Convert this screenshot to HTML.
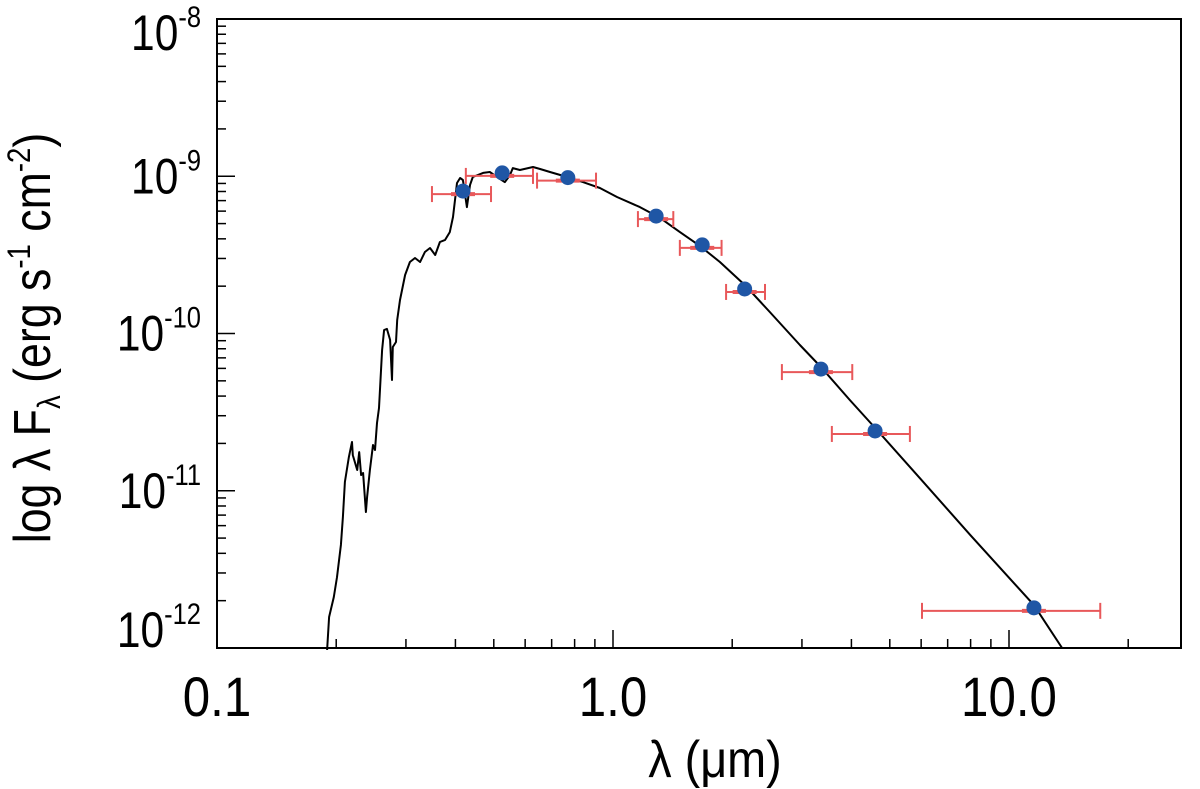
<!DOCTYPE html>
<html><head><meta charset="utf-8"><style>
html,body{margin:0;padding:0;background:#fff;}
svg{display:block;font-family:"Liberation Sans",sans-serif;}
</style></head><body>
<svg id="chart" width="1200" height="789" viewBox="0 0 1200 789">
<g id="axes"></g>
<g id="model"></g>
<g id="errs"></g>
<g id="pts"></g>
<text transform="translate(715,777) scale(0.9,1)" font-size="52" text-anchor="middle">λ (μm)</text>
<text transform="translate(50,338) rotate(-90) scale(0.86,1)" font-size="52" text-anchor="middle">log λ F<tspan font-size="32" dy="10">λ</tspan><tspan dy="-10"> (erg s</tspan><tspan font-size="32" dy="-20">-1</tspan><tspan dy="20"> cm</tspan><tspan font-size="32" dy="-20">-2</tspan><tspan dy="20">)</tspan></text>
</svg>
<script>
const xTicks = [0.1, 1.0, 10.0];
const xTickLabels = ["0.1", "1.0", "10.0"];
const yTicks = [-12, -11, -10, -9, -8];
const lambda = [0.418, 0.525, 0.769, 1.285, 1.68, 2.15, 3.35, 4.59, 11.56];
const flux = [8.05e-10, 1.05e-9, 9.8e-10, 5.58e-10, 3.66e-10, 1.92e-10, 5.94e-11, 2.4e-11, 1.8e-12];
const lamLo = [0.349, 0.425, 0.643, 1.156, 1.475, 1.93, 2.67, 3.57, 6.03];
const lamHi = [0.492, 0.628, 0.906, 1.42, 1.88, 2.42, 4.02, 5.62, 17.0];
const modelLogLam = [-0.722,-0.717,-0.705,-0.697,-0.687,-0.682,-0.677,-0.667,-0.659,-0.657,-0.646,-0.641,-0.636,-0.631,-0.624,-0.621,-0.614,-0.606,-0.601,-0.596,-0.591,-0.583,-0.578,-0.571,-0.563,-0.558,-0.556,-0.548,-0.545,-0.538,-0.525,-0.513,-0.500,-0.487,-0.475,-0.462,-0.449,-0.437,-0.424,-0.412,-0.404,-0.394,-0.386,-0.379,-0.369,-0.361,-0.354,-0.328,-0.311,-0.293,-0.273,-0.260,-0.253,-0.235,-0.202,-0.184,-0.159,-0.116,-0.076,-0.033,0.010,0.068,0.119,0.169,0.220,0.270,0.333,0.396,0.472,0.525,0.598,0.662,0.775,0.902,1.063,1.134];
const modelLogF = [-12.013,-11.803,-11.676,-11.549,-11.345,-11.167,-10.944,-10.785,-10.690,-10.773,-10.868,-10.754,-10.900,-10.887,-11.135,-11.040,-10.868,-10.709,-10.741,-10.569,-10.474,-10.105,-9.978,-9.971,-10.041,-10.296,-10.086,-10.054,-9.914,-9.787,-9.628,-9.545,-9.520,-9.545,-9.482,-9.456,-9.501,-9.418,-9.405,-9.355,-9.259,-9.043,-9.011,-9.024,-9.196,-9.056,-9.005,-8.979,-8.973,-9.005,-9.037,-8.992,-8.948,-8.960,-8.941,-8.954,-8.973,-9.005,-9.037,-9.075,-9.132,-9.196,-9.265,-9.355,-9.444,-9.545,-9.692,-9.863,-10.073,-10.213,-10.423,-10.601,-10.920,-11.281,-11.727,-12.000];

const L=217,R=1181,T=19,B=648;
const XMIN=-1, DEC_X=396, YMAX=-8, YMIN=-12;
function xl(logv){return L+(logv-XMIN)*DEC_X;}
function x(v){return xl(Math.log10(v));}
function yl(logv){return T+(YMAX-logv)/(YMAX-YMIN)*(B-T);}
function y(v){return yl(Math.log10(v));}
const NS="http://www.w3.org/2000/svg";
function mk(tag,attrs,parent){const e=document.createElementNS(NS,tag);for(const k in attrs)e.setAttribute(k,attrs[k]);parent.appendChild(e);return e;}

const axes=document.getElementById('axes');
const frame=mk('rect',{x:L,y:T,width:R-L,height:B-T,fill:'none',stroke:'#000','stroke-width':2},axes);


for(let d=-1; d<=1; d++){
  for(let m=1;m<=9;m++){
    const v=m*Math.pow(10,d); const px=x(v);
    if(px<L-0.5||px>R+0.5) continue;
    const len=m===1?18:9;
    const t=mk('line',{x1:px,y1:B,x2:px,y2:B-len,stroke:'#000','stroke-width':1.5},axes);
    
    
  }
}
xTicks.forEach((v,i)=>{
  const t=mk('text',{transform:'translate('+x(v)+',716) scale(0.88,1)','font-size':56,'text-anchor':'middle'},axes);
  t.textContent=xTickLabels[i];
  
  
});
for(let e=-12;e<=-8;e++){
  for(let m=1;m<=9;m++){
    const lv=e+Math.log10(m); if(lv>YMAX+1e-9) continue;
    const py=yl(lv); const len=m===1?18:9;
    const t=mk('line',{x1:L,y1:py,x2:L+len,y2:py,stroke:'#000','stroke-width':1.5},axes);
    
    
  }
}
yTicks.forEach(e=>{
  let py=yl(e)+17; if(e===-12) py=yl(e)-1; if(e===-8) py=yl(e)+31;
  const t=mk('text',{transform:'translate(201,'+py+') scale(0.85,1)','font-size':50,'text-anchor':'end'},axes);
  t.innerHTML='10<tspan font-size="30" dy="-23">'+e+'</tspan>';
  
  
});
let d='';
modelLogLam.forEach((lv,i)=>{d+=(i?'L':'M')+xl(lv).toFixed(1)+','+yl(modelLogF[i]).toFixed(1);});
const path=mk('path',{d:d,fill:'none',stroke:'#000','stroke-width':2,'stroke-linejoin':'round'},document.getElementById('model'));


const errs=document.getElementById('errs');
lambda.forEach((v,i)=>{
  const py=y(flux[i])+3;
  const g=mk('g',{stroke:'#e8585a','stroke-width':2},errs);
  
  
  mk('line',{x1:x(lamLo[i]),y1:py,x2:x(lamHi[i]),y2:py},g);
  mk('line',{x1:x(lamLo[i]),y1:py-8,x2:x(lamLo[i]),y2:py+8},g);
  mk('line',{x1:x(lamHi[i]),y1:py-8,x2:x(lamHi[i]),y2:py+8},g);
  mk('line',{x1:x(v)-12,y1:py,x2:x(v)+12,y2:py,'stroke-width':4},g);
});
const pts=document.getElementById('pts');
lambda.forEach((v,i)=>{
  const c=mk('circle',{cx:x(v),cy:y(flux[i]),r:7.5,fill:'#1f56a5'},pts);
  
  
});
</script>
</body></html>
